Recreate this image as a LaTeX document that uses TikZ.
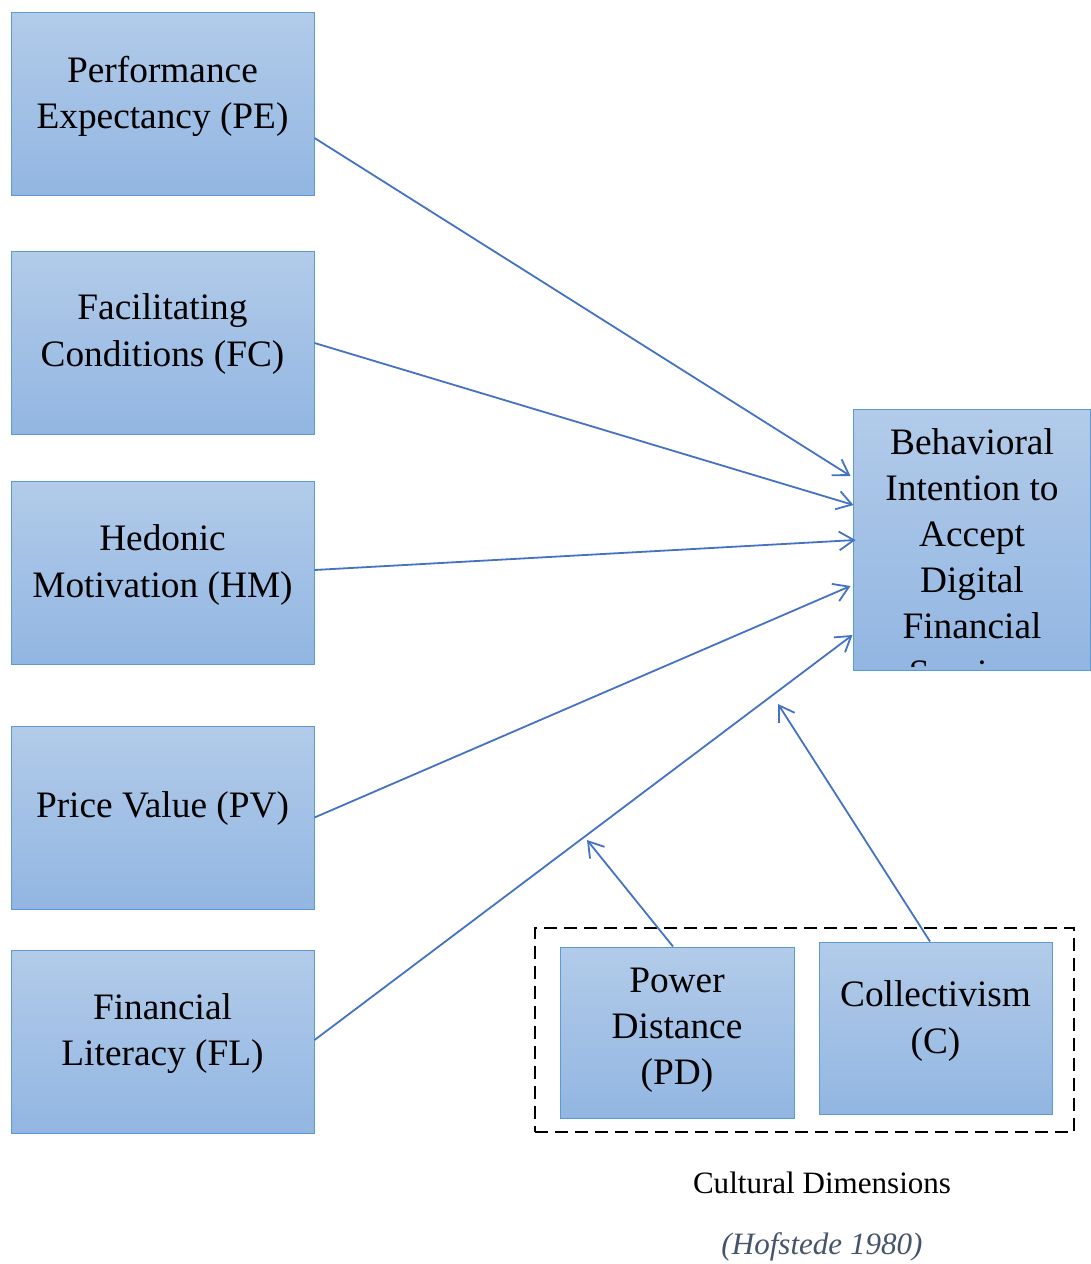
\documentclass[tikz,border=0pt]{standalone}
\usepackage{fontspec}
\setmainfont{Liberation Serif}
\usetikzlibrary{arrows.meta,calc}
\definecolor{boxtop}{RGB}{178,203,233}
\definecolor{boxbot}{RGB}{146,182,226}
\definecolor{boxline}{RGB}{91,155,213}
\definecolor{arrc}{RGB}{68,114,196}
\definecolor{citec}{RGB}{68,84,106}
\tikzset{
  boxs/.style={draw=boxline, line width=0.75pt, top color=boxtop, bottom color=boxbot, inner sep=0pt},
  mainbox/.style={boxs, minimum width=227.25pt, minimum height=137.25pt},
  txt/.style={align=center, inner sep=0pt, font=\fontsize{28}{34.6}\selectfont},
  arr/.style={draw=arrc, line width=1.35pt, -{Straight Barb[length=11pt,width=14pt,line width=1.35pt]}},
  dashbox/.style={draw=black, line width=1.8pt, dash pattern=on 9.5pt off 5.5pt, minimum width=404.25pt, minimum height=153pt, inner sep=0pt},
  captxt/.style={inner sep=0pt, font=\fontsize{23.3}{28}\selectfont}
}
\begin{document}
\begin{tikzpicture}[x=0.75pt,y=-0.75pt]
\useasboundingbox (0,0) rectangle (1090,1264);
% left boxes
\node[mainbox] (pe) at (162.5,103.5) {};
\node[txt] (peT) at (162.5,96) {Performance\\Expectancy (PE)};
\node[mainbox] (fc) at (162.5,342.5) {};
\node[txt] (fcT) at (162.5,334) {Facilitating\\Conditions (FC)};
\node[mainbox] (hm) at (162.5,572.5) {};
\node[txt] (hmT) at (162.5,565) {Hedonic\\Motivation (HM)};
\node[mainbox] (pv) at (162.5,817.5) {};
\node[txt] (pvT) at (162.5,809) {Price Value (PV)};
\node[mainbox] (fl) at (162.5,1042) {};
\node[txt] (flT) at (162.5,1033.5) {Financial\\Literacy (FL)};
% target box
\node[boxs, minimum width=177.75pt, minimum height=195.75pt] (bi) at (971.5,539.5) {};
\begin{scope}
\clip (853,409) rectangle (1090,666);
\node[txt] (biT) at (972,557) {Behavioral\\Intention to\\Accept\\Digital\\Financial\\Services};
\end{scope}
% cultural dimensions
\node[dashbox] (cd) at (804.5,1030) {};
\node[boxs, minimum width=175.5pt, minimum height=128.25pt] (pd) at (677,1032.5) {};
\node[txt] (pdT) at (677,1030) {Power\\Distance\\(PD)};
\node[boxs, minimum width=174.75pt, minimum height=129pt] (co) at (935.5,1028) {};
\node[txt] (coT) at (935.5,1021) {Collectivism\\(C)};
\node[captxt] (cdT) at (822,1183) {Cultural Dimensions};
\node[captxt, text=citec, font=\fontsize{23.3}{28}\selectfont\itshape] (hof) at (822,1247) {(Hofstede 1980)};
% connectors
\draw[arr] ($(pe.east)+(0,34.5)$) -- ($(bi.west)+(-2,-63.5)$);
\draw[arr] ($(fc.east)+(0,0.5)$) -- ($(bi.west)+(1,-34.5)$);
\draw[arr] ($(hm.east)+(0,-2.5)$) -- ($(bi.west)+(3,0.5)$);
\draw[arr] ($(pv.east)+(0,0)$) -- ($(bi.west)+(-2,46.5)$);
\draw[arr] ($(fl.east)+(0,-2)$) -- ($(bi.west)+(0,95.5)$);
\coordinate (pdtip) at (587,840);
\coordinate (cotip) at (778,704);
\draw[arr] ($(pd.north)+(-4,0)$) -- (pdtip);
\draw[arr] ($(co.north)+(-5.5,0)$) -- (cotip);
\end{tikzpicture}
\end{document}
